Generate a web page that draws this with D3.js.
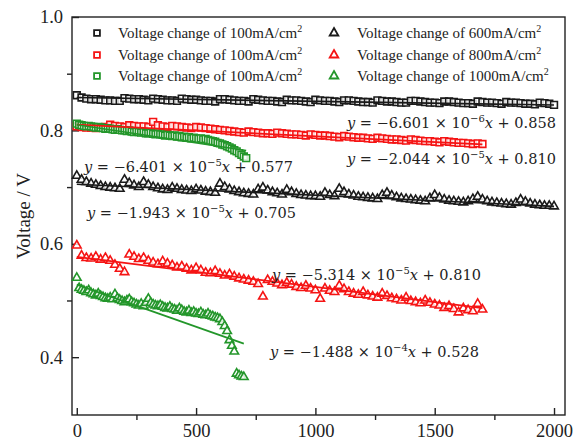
<!DOCTYPE html>
<html>
<head>
<meta charset="utf-8">
<script src="https://cdn.jsdelivr.net/npm/d3@7"></script>
<style>
  html, body { margin: 0; padding: 0; background: #fff; }
  svg { display: block; }
  .axis path, .axis line { stroke: #222; stroke-width: 1.4px; }
  .axis text { font-family: "Liberation Serif", serif; font-size: 18.5px; fill: #222; }
</style>
</head>
<body>
<svg id="chart" width="573" height="443"></svg>
<script>
// Sampling steps of the test runs (s)
const stepLong = 20;   // 100 / 600 / 800 mA/cm² runs
const stepShort = 10;  // 1000 mA/cm² run and its 100 mA/cm² reference

// Voltage (V) recorded in each run
const vBlack100 = [
  0.862, 0.858, 0.856, 0.855, 0.855, 0.854, 0.853, 0.853, 0.852, 0.852,
  0.857, 0.856, 0.855, 0.855, 0.854, 0.853, 0.856, 0.855, 0.854, 0.853,
  0.853, 0.852, 0.856, 0.855, 0.854, 0.854, 0.853, 0.852, 0.852, 0.851,
  0.855, 0.855, 0.854, 0.853, 0.852, 0.852, 0.851, 0.855, 0.854, 0.853,
  0.852, 0.852, 0.851, 0.850, 0.854, 0.853, 0.853, 0.852, 0.851, 0.850,
  0.854, 0.853, 0.852, 0.852, 0.851, 0.850, 0.853, 0.853, 0.852, 0.851,
  0.850, 0.850, 0.849, 0.853, 0.852, 0.851, 0.851, 0.850, 0.849, 0.849,
  0.852, 0.852, 0.851, 0.850, 0.849, 0.849, 0.848, 0.851, 0.851, 0.850,
  0.849, 0.848, 0.848, 0.847, 0.851, 0.850, 0.849, 0.849, 0.848, 0.847,
  0.850, 0.849, 0.849, 0.848, 0.847, 0.847, 0.846, 0.849, 0.848, 0.847,
  0.845
];
const vRed100 = [
  0.807, 0.806, 0.805, 0.805, 0.804, 0.805, 0.806, 0.810, 0.808, 0.807,
  0.806, 0.809, 0.808, 0.807, 0.807, 0.806, 0.815, 0.809, 0.807, 0.806,
  0.808, 0.807, 0.806, 0.805, 0.804, 0.806, 0.805, 0.804, 0.803, 0.802,
  0.801, 0.800, 0.799, 0.798, 0.797, 0.796, 0.798, 0.797, 0.796, 0.795,
  0.795, 0.794, 0.796, 0.795, 0.794, 0.793, 0.793, 0.792, 0.791, 0.793,
  0.792, 0.791, 0.791, 0.790, 0.789, 0.788, 0.790, 0.789, 0.788, 0.787,
  0.787, 0.786, 0.785, 0.787, 0.786, 0.785, 0.784, 0.784, 0.783, 0.782,
  0.784, 0.783, 0.782, 0.781, 0.781, 0.780, 0.779, 0.781, 0.780, 0.779,
  0.778, 0.778, 0.777, 0.776, 0.777, 0.776
];
const vGreen100 = [
  0.812, 0.810, 0.809, 0.808, 0.807, 0.808, 0.807, 0.806, 0.805, 0.806,
  0.805, 0.804, 0.803, 0.804, 0.803, 0.802, 0.801, 0.802, 0.801, 0.800,
  0.800, 0.799, 0.800, 0.798, 0.797, 0.798, 0.797, 0.796, 0.797, 0.795,
  0.795, 0.796, 0.794, 0.793, 0.794, 0.793, 0.792, 0.791, 0.792, 0.791,
  0.790, 0.791, 0.789, 0.790, 0.788, 0.789, 0.787, 0.788, 0.786, 0.787,
  0.786, 0.785, 0.786, 0.784, 0.785, 0.783, 0.782, 0.781, 0.780, 0.778,
  0.777, 0.775, 0.774, 0.772, 0.770, 0.768, 0.765, 0.763, 0.760, 0.757,
  0.754, 0.751
];
const v600 = [
  0.720, 0.713, 0.709, 0.706, 0.704, 0.702, 0.700, 0.699, 0.698, 0.697,
  0.713, 0.707, 0.703, 0.700, 0.709, 0.704, 0.700, 0.698, 0.696, 0.695,
  0.699, 0.697, 0.695, 0.694, 0.693, 0.696, 0.694, 0.692, 0.691, 0.690,
  0.706, 0.700, 0.696, 0.693, 0.691, 0.689, 0.688, 0.687, 0.696, 0.699,
  0.694, 0.691, 0.689, 0.687, 0.695, 0.691, 0.688, 0.686, 0.685, 0.684,
  0.684, 0.683, 0.690, 0.686, 0.684, 0.697, 0.691, 0.687, 0.685, 0.683,
  0.682, 0.681, 0.680, 0.679, 0.686, 0.690, 0.685, 0.682, 0.680, 0.679,
  0.678, 0.677, 0.676, 0.675, 0.680, 0.686, 0.681, 0.678, 0.676, 0.675,
  0.674, 0.673, 0.675, 0.679, 0.683, 0.678, 0.675, 0.673, 0.672, 0.671,
  0.670, 0.669, 0.672, 0.678, 0.674, 0.671, 0.669, 0.668, 0.667, 0.667,
  0.666
];
const v800 = [
  0.597, 0.579, 0.575, 0.574, 0.577, 0.572, 0.575, 0.570, 0.563, 0.556,
  0.550, 0.581, 0.577, 0.573, 0.575, 0.570, 0.567, 0.564, 0.569, 0.565,
  0.562, 0.558, 0.560, 0.556, 0.553, 0.557, 0.553, 0.549, 0.548, 0.552,
  0.547, 0.544, 0.546, 0.542, 0.539, 0.537, 0.535, 0.533, 0.529, 0.507,
  0.536, 0.533, 0.530, 0.527, 0.531, 0.528, 0.524, 0.522, 0.526, 0.521,
  0.518, 0.503, 0.521, 0.517, 0.515, 0.526, 0.520, 0.515, 0.512, 0.510,
  0.515, 0.509, 0.507, 0.505, 0.512, 0.508, 0.504, 0.502, 0.500, 0.505,
  0.499, 0.497, 0.495, 0.500, 0.496, 0.493, 0.491, 0.487, 0.490, 0.485,
  0.479, 0.486, 0.483, 0.481, 0.494, 0.484
];
const v1000 = [
  0.540, 0.522, 0.519, 0.517, 0.515, 0.518, 0.513, 0.511, 0.509, 0.512,
  0.508, 0.506, 0.504, 0.503, 0.505, 0.502, 0.511, 0.504, 0.501, 0.499,
  0.497, 0.500, 0.502, 0.497, 0.495, 0.493, 0.491, 0.494, 0.490, 0.496,
  0.503, 0.496, 0.493, 0.491, 0.490, 0.492, 0.489, 0.487, 0.486, 0.489,
  0.485, 0.484, 0.482, 0.486, 0.483, 0.480, 0.479, 0.482, 0.478, 0.480,
  0.477, 0.476, 0.479, 0.475, 0.474, 0.477, 0.473, 0.472, 0.470, 0.469,
  0.467, 0.462, 0.455, 0.446, 0.430, 0.420, 0.410, 0.371, 0.368, 0.366,
  0.365
];

// Linear fits: slope (V/s) and intercept (V)
const fitSlopes     = [-6.601e-6, -2.044e-5, -6.401e-5, -1.943e-5, -5.314e-5, -1.488e-4];
const fitIntercepts = [0.858, 0.810, 0.810, 0.705, 0.577, 0.528];

// Fit equations as printed
const eqSlopeText = ["6.601", "2.044", "6.401", "1.943", "5.314", "1.488"];
const eqExpText   = ["6", "5", "5", "5", "5", "4"];
const eqInterText = ["0.858", "0.810", "0.577", "0.705", "0.810", "0.528"];

const legendLabels = ["100", "100", "100", "600", "800", "1000"];
const xTicks = [0, 500, 1000, 1500, 2000];
const xMinorTicks = [250, 750, 1250, 1750];
const yTicks = [0.4, 0.6, 0.8, 1.0];
const yMinorTicks = [0.5, 0.7, 0.9];

const BLACK = "#1a1a1a", RED = "#f51414", GREEN = "#23962a";

const series = [
  { v: vBlack100, step: stepLong,  color: BLACK, shape: "square" },
  { v: vRed100,   step: stepLong,  color: RED,   shape: "square" },
  { v: vGreen100, step: stepShort, color: GREEN, shape: "square" },
  { v: v600,      step: stepLong,  color: BLACK, shape: "triangle" },
  { v: v800,      step: stepLong,  color: RED,   shape: "triangle" },
  { v: v1000,     step: stepShort, color: GREEN, shape: "triangle" }
];
series.forEach((s, i) => {
  s.pts = s.v.map((v, j) => ({ t: j * s.step, v }));
  s.slope = fitSlopes[i];
  s.b = fitIntercepts[i];
});

const svg = d3.select("#chart");
const L = 72, T = 17, R = 565, B = 415;

const x = d3.scaleLinear().domain([-20, 2046]).range([L, R]);
const y = d3.scaleLinear().domain([0.298, 1.0]).range([B, T]);

// Frame
svg.append("rect")
  .attr("x", L).attr("y", T).attr("width", R - L).attr("height", B - T)
  .attr("fill", "none").attr("stroke", "#222").attr("stroke-width", 1.4);

// Axes: major ticks point inward, minor ticks outward
const fmtY = d3.format(".1f");
svg.append("g").attr("class", "axis").attr("transform", `translate(0,${B})`)
  .call(d3.axisBottom(x).tickValues(xTicks).tickSizeInner(-7).tickSizeOuter(0).tickPadding(9).tickFormat(d3.format("d")))
  .call(g => g.select(".domain").remove());
svg.append("g").attr("class", "axis").attr("transform", `translate(0,${B})`)
  .call(d3.axisBottom(x).tickValues(xMinorTicks).tickSizeInner(5).tickSizeOuter(0).tickFormat(""))
  .call(g => g.select(".domain").remove());
svg.append("g").attr("class", "axis").attr("transform", `translate(${L},0)`)
  .call(d3.axisLeft(y).tickValues(yTicks).tickSizeInner(-7).tickSizeOuter(0).tickPadding(9).tickFormat(fmtY))
  .call(g => g.select(".domain").remove());
svg.append("g").attr("class", "axis").attr("transform", `translate(${L},0)`)
  .call(d3.axisLeft(y).tickValues(yMinorTicks).tickSizeInner(5).tickSizeOuter(0).tickFormat(""))
  .call(g => g.select(".domain").remove());

svg.append("text")
  .attr("transform", `translate(30,${(T + B) / 2}) rotate(-90)`)
  .attr("text-anchor", "middle")
  .attr("font-family", "Liberation Serif, serif").attr("font-size", 19).attr("fill", "#222")
  .text("Voltage / V");

// Markers
const symSquare = d3.symbol().type(d3.symbolSquare).size(46);
const symTri = d3.symbol().type(d3.symbolTriangle).size(32);
const symSquareLeg = d3.symbol().type(d3.symbolSquare).size(34);
const symTriLeg = d3.symbol().type(d3.symbolTriangle).size(32);

const plot = svg.append("g");
series.forEach(s => {
  plot.append("g").selectAll("path").data(s.pts).join("path")
    .attr("transform", d => `translate(${x(d.t)},${y(d.v)})`)
    .attr("d", s.shape === "square" ? symSquare : symTri)
    .attr("fill", "#fff").attr("fill-opacity", 0.8)
    .attr("stroke", s.color).attr("stroke-width", 1.6);
});

// Fit lines
series.forEach(s => {
  const t0 = 0, t1 = s.pts[s.pts.length - 1].t;
  plot.append("line")
    .attr("x1", x(t0)).attr("y1", y(s.b + s.slope * t0))
    .attr("x2", x(t1)).attr("y2", y(s.b + s.slope * t1))
    .attr("stroke", s.color).attr("stroke-width", 1.7);
});

// Fit equations
const eqPos = [[347, 128], [347, 164], [84, 172], [87, 218], [272, 280], [270, 357]];
eqPos.forEach((p, i) => {
  const t = svg.append("text")
    .attr("x", p[0]).attr("y", p[1])
    .attr("font-family", "DejaVu Serif, serif").attr("font-size", 14.5).attr("fill", "#222");
  t.append("tspan").attr("font-style", "italic").text("y");
  t.append("tspan").text(` = \u2212${eqSlopeText[i]} \u00d7 10`);
  t.append("tspan").attr("font-size", 10).attr("dy", -6).text(`\u2212${eqExpText[i]}`);
  t.append("tspan").attr("font-style", "italic").attr("dy", 6).text("x");
  t.append("tspan").text(` + ${eqInterText[i]}`);
});

// Legend
const legRows = [33, 55, 76];
const legCols = [[97, 118], [334, 357]];
series.forEach((s, i) => {
  const col = legCols[Math.floor(i / 3)], row = legRows[i % 3];
  const g = svg.append("g");
  g.append("path")
    .attr("transform", `translate(${col[0]},${row})`)
    .attr("d", s.shape === "square" ? symSquareLeg : symTriLeg)
    .attr("fill", "#fff").attr("stroke", s.color).attr("stroke-width", 1.8);
  const t = g.append("text")
    .attr("x", col[1]).attr("y", row + 5)
    .attr("font-family", "Liberation Serif, serif").attr("font-size", 15).attr("fill", "#222");
  t.append("tspan").text(`Voltage change of ${legendLabels[i]}mA/cm`);
  t.append("tspan").attr("font-size", 10).attr("dy", -6).text("2");
});
</script>
</body>
</html>
